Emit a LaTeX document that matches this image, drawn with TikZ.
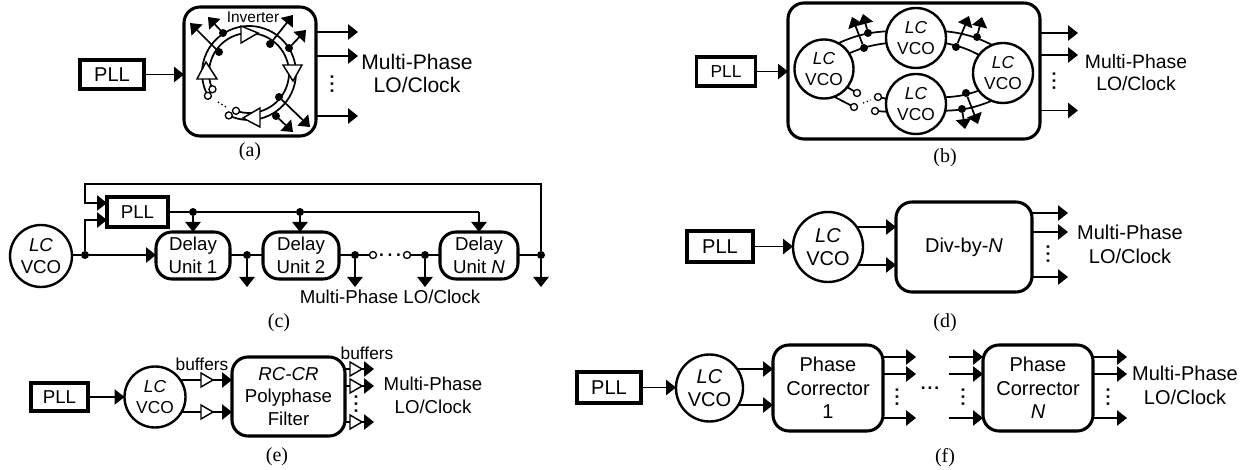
\documentclass[tikz,border=0pt]{standalone}
\usepackage{fontspec}
\setmainfont{Liberation Sans}
\newfontfamily\capfont{Liberation Serif}
\usetikzlibrary{arrows.meta}
\newcommand{\px}{0.75pt}
\newcommand{\lc}{\textit{LC}\\VCO}
\newcommand{\hdt}[1]{\bfseries .\kern#1.\kern#1.}
\tikzset{
	wire/.style={line width=1.3pt},
	pllbox/.style={draw,line width=2.6pt,minimum width=62*\px,minimum height=29*\px,inner sep=0pt,outer sep=0pt},
	blk/.style={draw,line width=2.3pt,rounded corners=12pt,inner sep=0pt,outer sep=0pt,align=center},
	vco/.style={draw,circle,fill=white,line width=1.8pt,inner sep=0pt,outer sep=0pt,align=center},
	jn/.style={circle,fill=black,minimum size=8*\px,inner sep=0pt,outer sep=0pt},
	opn/.style={draw,circle,fill=white,line width=1pt,minimum size=7*\px,inner sep=0pt,outer sep=0pt},
	inv/.style={draw,fill=white,line width=1.1pt,line join=miter},
	txl/.style={font=\fontsize{15}{17.5}\selectfont,align=center,inner sep=0pt},
	txm/.style={font=\fontsize{14}{17}\selectfont,align=center,inner sep=0pt},
	txs/.style={font=\fontsize{13}{16}\selectfont,align=center,inner sep=0pt},
	captxt/.style={font=\capfont\fontsize{15}{17}\selectfont,inner sep=0pt},
	hd/.style={font=\fontsize{13}{13}\selectfont,inner sep=0pt},
	vd/.style={hd,rotate=90}
}
\begin{document}
\begin{tikzpicture}[x=0.75pt,y=-0.75pt,>={Triangle[length=7.5pt,width=11.5pt]},wire]
	\useasboundingbox (0,0) rectangle (1253,470);

	% (a)
	\node[pllbox,txl,minimum width=64*\px] (ap) at (112,74.5) {PLL};
	\node[blk,minimum width=132*\px,minimum height=129*\px] (ab) at (250,71.5) {};
	\draw[->] (ap)--(ap -| ab.west);
	\coordinate (ac) at (249,73);
	\draw (ac) ++(-244.5:47) node[opn] (ao1) {} arc[start angle=244.5,end angle=569,radius=47*\px] node[opn] (ao2) {};
	\draw (ac) ++(-251:40) node[opn] (ao3) {} arc[start angle=251,end angle=564,radius=40*\px] node[opn] (ao4) {};
	\draw[inv] (241,26)--(241,43)--(258,33)--cycle;
	\draw[inv] (283,65)--(302,65)--(293,81)--cycle;
	\draw[inv] (260,108)--(260,127)--(243,118)--cycle;
	\draw[inv] (197,79)--(217,79)--(206,62)--cycle;
	\node[jn] (aj1) at (223,33) {};
	\node[jn] (aj2) at (219,52) {};
	\node[jn] (aj3) at (270,44) {};
	\node[jn] (aj4) at (289,48) {};
	\node[jn] (aj5) at (279,97) {};
	\node[jn] (aj6) at (276,116) {};
	\coordinate (ae1) at (208,17);
	\coordinate (ae2) at (190,23);
	\coordinate (ae3) at (293,15);
	\coordinate (ae4) at (306,30);
	\coordinate (ae5) at (310,127);
	\coordinate (ae6) at (293,132);
	\foreach \i in {1,...,6}
		\draw[->] (aj\i)--(ae\i);
	\draw[dotted,line width=1pt] (218,102)--(226,107);
	\node[txs,font=\fontsize{11.6}{14}\selectfont] (al) at (253,17) {Inverter};
	\coordinate (ax1) at (358,32);
	\coordinate (ax2) at (358,56);
	\coordinate (ax3) at (358,116);
	\foreach \i in {1,2,3}
		\draw[->] (ax\i -| ab.east)--(ax\i);
	\node[vd] (av) at (332,84) {\hdt{1.8pt}};
	\node[txl,font=\fontsize{15.8}{17.5}\selectfont] (at) at (417,73.5) {Multi-Phase\\LO/Clock};
	\node[captxt] (an) at (250,152) {(a)};

	% (b)
	\node[pllbox,txs,minimum width=59*\px] (bp) at (726,71.5) {PLL};
	\node[blk,minimum width=252*\px,minimum height=136*\px] (bb) at (914,71) {};
	\draw[->] (bp)--(bp -| bb.west);
	\node[vco,txs,minimum size=59*\px] (b1) at (824,69) {\lc};
	\node[vco,txs,minimum size=60*\px] (b2) at (916,38) {\lc};
	\node[vco,txs,minimum size=60*\px] (b3) at (1003,73) {\lc};
	\node[vco,txs,minimum size=60*\px] (b4) at (916,104) {\lc};
	\draw (b1.61) to[bend left=10] (b2.167);
	\draw (b1.32) to[bend left=8] (b2.190);
	\draw (b2.13) to[bend left=10] (b3.111);
	\draw (b2.-10) to[bend left=8] (b3.143);
	\draw (b4.13) to[bend right=8] (b3.216);
	\draw (b4.-13) to[bend right=10] (b3.248);
	\node[opn] (bo1) at (857,93) {};
	\node[opn] (bo2) at (854,107) {};
	\node[opn] (bo3) at (878,97) {};
	\node[opn] (bo4) at (875,111) {};
	\draw (b1.-38)--(bo1);
	\draw (b1.-70)--(bo2);
	\draw (bo3)--(b4.170);
	\draw (bo4)--(b4.195);
	\draw[dotted,line width=1pt] (863,103)--(871,100);
	\node[jn] (bj1) at (864,48) {};
	\node[jn] (bj2) at (868,33) {};
	\node[jn] (bj3) at (956,47) {};
	\node[jn] (bj4) at (977,37) {};
	\node[jn] (bj5) at (966,93) {};
	\node[jn] (bj6) at (962,109) {};
	\coordinate (be1) at (852,17);
	\coordinate (be2) at (863,14);
	\coordinate (be3) at (969,16);
	\coordinate (be4) at (982,17);
	\coordinate (be5) at (978,124);
	\coordinate (be6) at (965,129);
	\foreach \i in {1,...,6}
		\draw[->] (bj\i)--(be\i);
	\coordinate (bx1) at (1078,33);
	\coordinate (bx2) at (1078,55);
	\coordinate (bx3) at (1078,110.5);
	\foreach \i in {1,2,3}
		\draw[->] (bx\i -| bb.east)--(bx\i);
	\node[vd] (bv) at (1054,81) {\hdt{1.8pt}};
	\node[txm,font=\fontsize{14.5}{17}\selectfont] (bt) at (1136,72.5) {Multi-Phase\\LO/Clock};
	\node[captxt] (bn) at (945,158) {(b)};

	% (c)
	\node[vco,txm,minimum size=62*\px] (cv) at (41,256) {\lc};
	\node[pllbox,txm,minimum width=61*\px,minimum height=30*\px] (cp) at (137.5,212) {PLL};
	\node[blk,txm,minimum width=74*\px,minimum height=47*\px] (c1) at (193,255.5) {Delay\\Unit 1};
	\node[blk,txm,minimum width=76*\px,minimum height=47*\px] (c2) at (301,255.5) {Delay\\Unit 2};
	\node[blk,txm,minimum width=78*\px,minimum height=47*\px] (c3) at (479,255.5) {Delay\\Unit \textit{N}};
	\node[jn] (cj0) at (85,255) {};
	\node[jn] (cj1) at (247,255) {};
	\node[jn] (cj2) at (355,255) {};
	\node[jn] (cj3) at (425,255) {};
	\node[jn] (cj4) at (541,255) {};
	\node[opn] (co1) at (373,255) {};
	\node[opn] (co2) at (407,255) {};
	\draw (cv.east |- cj0)--(cj0);
	\draw[->] (cj0)--(cj0 -| c1.west);
	\draw (c1.east |- cj1)--(c2.west |- cj1);
	\draw (c2.east |- cj2)--(co1);
	\draw (co2)--(c3.west |- cj3);
	\draw (c3.east |- cj4)--(cj4);
	\node[hd] (cd) at (390,255) {\hdt{2.8pt}};
	\coordinate (cq1) at (107,220);
	\coordinate (cq2) at (107,203);
	\coordinate (ct) at (85,184);
	\draw[->] (cj0) |- (cq1);
	\draw[->] (cj4) |- (ct)--(ct |- cq2)--(cq2);
	\node[jn] (cr1) at (193,212) {};
	\node[jn] (cr2) at (300,212) {};
	\coordinate (cr3) at (479,212);
	\draw (cp)--(cr1)--(cr2)--(cr3);
	\draw[->] (cr1)--(cr1 |- c1.north);
	\draw[->] (cr2)--(cr2 |- c2.north);
	\draw[->] (cr3)--(c3.north);
	\coordinate (cy) at (0,287);
	\foreach \i in {1,...,4} {
		\draw[->] (cj\i)--(cj\i |- cy);
	}
	\node[txm] (ct1) at (390,297) {Multi-Phase LO/Clock};
	\node[captxt] (cn) at (279,323) {(c)};

	% (d)
	\node[pllbox,txl,minimum width=66*\px,minimum height=31*\px] (dp) at (720,246.5) {PLL};
	\node[vco,txl,minimum size=70*\px] (dv) at (828,247) {\lc};
	\node[blk,txl,minimum width=136*\px,minimum height=90*\px] (db) at (964,247) {Div-by-\textit{N}};
	\draw[->] (dp)--(dp -| dv.west);
	\coordinate (di1) at (896,227);
	\coordinate (di2) at (896,265);
	\draw[->] (dv.east |- di1) ++(-6,0)--(di1);
	\draw[->] (dv.east |- di2) ++(-6,0)--(di2);
	\coordinate (dx1) at (1068,213);
	\coordinate (dx2) at (1068,232);
	\coordinate (dx3) at (1068,277);
	\foreach \i in {1,2,3}
		\draw[->] (dx\i -| db.east)--(dx\i);
	\node[vd] (dd) at (1048,254) {\hdt{1.8pt}};
	\node[txl] (dt) at (1130,244.5) {Multi-Phase\\LO/Clock};
	\node[captxt] (dn) at (945,323) {(d)};

	% (e)
	\node[pllbox,txm,minimum width=57*\px,minimum height=28*\px] (ep) at (59.5,397) {PLL};
	\node[vco,txs,minimum size=61*\px] (ev) at (155,397) {\lc};
	\node[blk,txm,minimum width=113*\px,minimum height=79*\px] (eb) at (288.5,396.5) {\textit{RC-CR}\\Polyphase\\Filter};
	\draw[->] (ep)--(ep -| ev.west);
	\coordinate (ei1) at (232,380);
	\coordinate (ei2) at (232,412);
	\draw[->] (ev.east |- ei1) ++(-5,0)--(ei1);
	\draw[->] (ev.east |- ei2) ++(-5,0)--(ei2);
	\coordinate (ex1) at (374,369);
	\coordinate (ex2) at (374,386);
	\coordinate (ex3) at (374,422);
	\foreach \i in {1,2,3}
		\draw[->] (ex\i -| eb.east)--(ex\i);
	\foreach \bx/\by in {201/380,201/412,350/369,350/386,350/422}
		\draw[inv] (\bx,\by-7)--(\bx,\by+7)--(\bx+12,\by)--cycle;
	\node[vd] (ed) at (356,404) {\hdt{1.8pt}};
	\node[txs] (eb1) at (202,364) {buffers};
	\node[txs] (eb2) at (367,353) {buffers};
	\node[txm] (et) at (433,395.5) {Multi-Phase\\LO/Clock};
	\node[captxt] (en) at (277,457) {(e)};

	% (f)
	\node[pllbox,txl,minimum width=64*\px,minimum height=31*\px] (fp) at (609,387.5) {PLL};
	\node[vco,txl,minimum size=67*\px] (fv) at (709.5,388) {\lc};
	\node[blk,txl,minimum width=110*\px,minimum height=86*\px] (f1) at (828,388) {Phase\\Corrector\\1};
	\node[blk,txl,minimum width=110*\px,minimum height=86*\px] (f2) at (1038,388) {Phase\\Corrector\\\textit{N}};
	\draw[->] (fp)--(fp -| fv.west);
	\coordinate (fi1) at (773,369);
	\coordinate (fi2) at (773,405);
	\draw[->] (fv.east |- fi1) ++(-6,0)--(fi1);
	\draw[->] (fv.east |- fi2) ++(-6,0)--(fi2);
	\foreach \i/\fy in {1/357,2/374,3/418} {
		\coordinate (fa\i) at (916,\fy);
		\coordinate (fb\i) at (949,\fy);
		\coordinate (fc\i) at (1127,\fy);
		\draw[->] (fa\i -| f1.east)--(fa\i);
		\draw[->] (fb\i)--(fb\i -| f2.west);
		\draw[->] (fc\i -| f2.east)--(fc\i);
	}
	\node[vd] (fd1) at (897,397) {\hdt{1.8pt}};
	\node[vd] (fd2) at (963,397) {\hdt{1.8pt}};
	\node[vd] (fd3) at (1108,397) {\hdt{1.8pt}};
	\node[hd] (fd4) at (930,388) {\hdt{1.4pt}};
	\node[txl] (ft) at (1185,385.5) {Multi-Phase\\LO/Clock};
	\node[captxt] (fn) at (945,458) {(f)};
\end{tikzpicture}
\end{document}
